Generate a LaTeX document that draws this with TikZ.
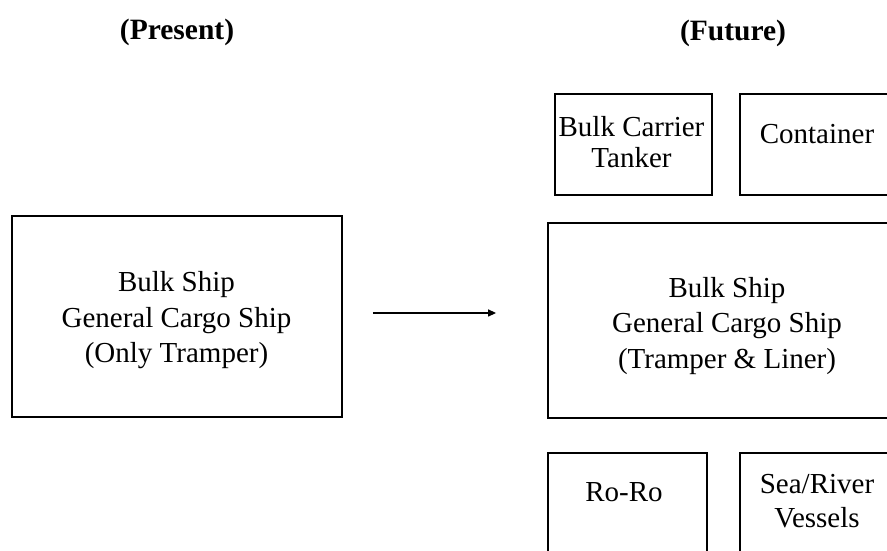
\documentclass[tikz,border=0pt]{standalone}
\usepackage{fontspec}
\setmainfont{Liberation Serif}
\usetikzlibrary{arrows.meta}
\tikzset{
  box/.style={draw=black, line width=1.8pt, rectangle, inner sep=0pt},
  lbl/.style={align=center, inner sep=0pt, font=\fontsize{29}{35.5}\selectfont},
  lbltight/.style={align=center, inner sep=0pt, font=\fontsize{29}{31}\selectfont},
  ttl/.style={inner sep=0pt, font=\fontsize{29.5}{35}\selectfont\bfseries},
  conn/.style={line width=1.3pt, -{Triangle[length=8pt,width=7pt]}}
}
\begin{document}
\begin{tikzpicture}[x=1pt,y=1pt]
\useasboundingbox (0,0) rectangle (887,551);
\clip (0,0) rectangle (887,551);
\fill[white] (0,0) rectangle (887,551);
% titles
\node[ttl] (tpres) at (177,519) {(Present)};
\node[ttl] (tfut) at (733,517.5) {(Future)};
% boxes
\node[box, minimum width=330pt, minimum height=201pt] (lbox) at (177,234.5) {};
\node[box, minimum width=358pt, minimum height=195pt] (bbox) at (727,230.5) {};
\node[box, minimum width=157pt, minimum height=101pt] (bcbox) at (633.5,406.5) {};
\node[box, minimum width=154pt, minimum height=101pt] (cbox) at (817,406.5) {};
\node[box, minimum width=159pt, minimum height=147pt] (rbox) at (627.5,24.5) {};
\node[box, minimum width=154pt, minimum height=147pt] (sbox) at (817,24.5) {};
% texts
\node[lbl] (ltxt) at (176.5,230.6) {Bulk Ship\\General Cargo Ship\\(Only Tramper)};
\node[lbl] (btxt) at (727,225.1) {Bulk Ship\\General Cargo Ship\\(Tramper \& Liner)};
\node[lbltight] (bctxt) at (631.5,409.3) {Bulk Carrier\\Tanker};
\node[lbl] (ctxt) at (817,417) {Container};
\node[lbl] (rtxt) at (624,59) {Ro-Ro};
\node[lbltight] (stxt) at (817,50) {Sea/River\\[3pt]Vessels};
% connector
\draw[conn, shorten <=30pt, shorten >=51pt] ([yshift=3.5pt]lbox.east) -- ([yshift=7.5pt]bbox.west);
\end{tikzpicture}
\end{document}
